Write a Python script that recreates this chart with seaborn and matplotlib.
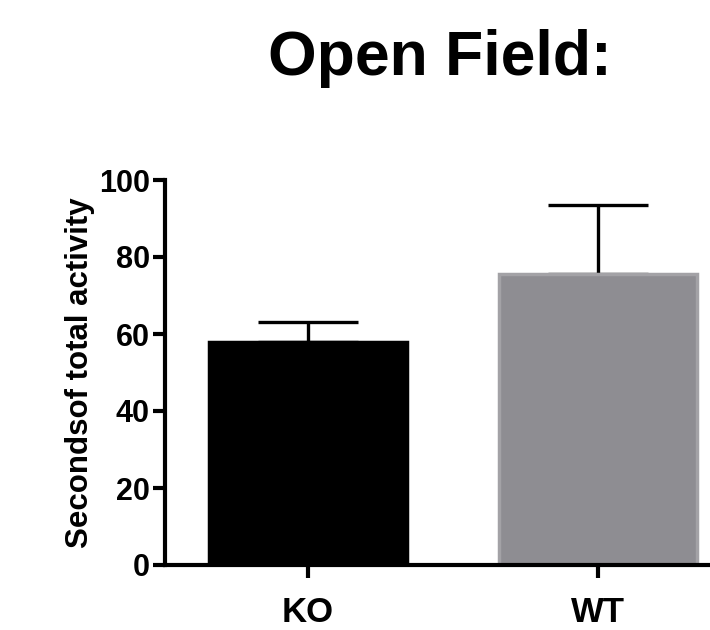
import matplotlib
matplotlib.use("Agg")
import matplotlib.pyplot as plt
import seaborn as sns
import pandas as pd

groups = ["KO", "WT"]
means = [58, 75.5]
errors_upper = [5, 18]
bar_colors = ["#000000", "#8e8d92"]
edge_colors = ["#000000", "#a3a2a6"]
y_ticks = [0, 20, 40, 60, 80, 100]

sns.set_theme(style="ticks")
plt.rcParams['font.family'] = ['Liberation Sans', 'DejaVu Sans']
plt.rcParams['text.color'] = 'black'
plt.rcParams['xtick.color'] = 'black'
plt.rcParams['ytick.color'] = 'black'
plt.rcParams['axes.labelcolor'] = 'black'

fig = plt.figure(figsize=(7.1, 6.3), dpi=100)
ax = fig.add_axes([165/710, 65/630, 1 - 165/710, (565-180)/630])

df = pd.DataFrame({"group": groups, "value": means})
sns.barplot(data=df, x="group", y="value", hue="group", palette=bar_colors,
            width=0.68, ax=ax, legend=False, errorbar=None, saturation=1)
for patch, ec in zip(ax.patches, edge_colors):
    patch.set_edgecolor(ec)
    patch.set_linewidth(2.5)
    patch.set_zorder(2)

ax.errorbar(x=[0, 1], y=means, yerr=[[0, 0], errors_upper], fmt="none",
            ecolor="black", elinewidth=2.4, capsize=36, capthick=2.4, zorder=1)

ax.set_ylim(0, 100)
ax.set_xlim(-0.493, 1.386)
ax.set_yticks(y_ticks)
ax.set_yticklabels([str(t) for t in y_ticks], fontsize=22, fontweight="bold", color="black")
ax.set_xticks([0, 1])
ax.set_xticklabels(groups, fontsize=25, fontweight="bold", color="black")
ax.set_xlabel("")
ax.set_ylabel("Secondsof total activity", fontsize=22.5, fontweight="bold", labelpad=3, color="black")
for s in ["top", "right"]:
    ax.spines[s].set_visible(False)
for s in ["left", "bottom"]:
    ax.spines[s].set_linewidth(3)
    ax.spines[s].set_color("black")
ax.tick_params(axis="both", width=3, length=9, color="black", pad=2)
ax.tick_params(axis="x", pad=13)

fig.text(0.62, 1 - 75/630, "Open Field:", fontsize=45, fontweight="bold",
         ha="center", va="baseline", color="black")

fig.savefig("out.png", dpi=100)
